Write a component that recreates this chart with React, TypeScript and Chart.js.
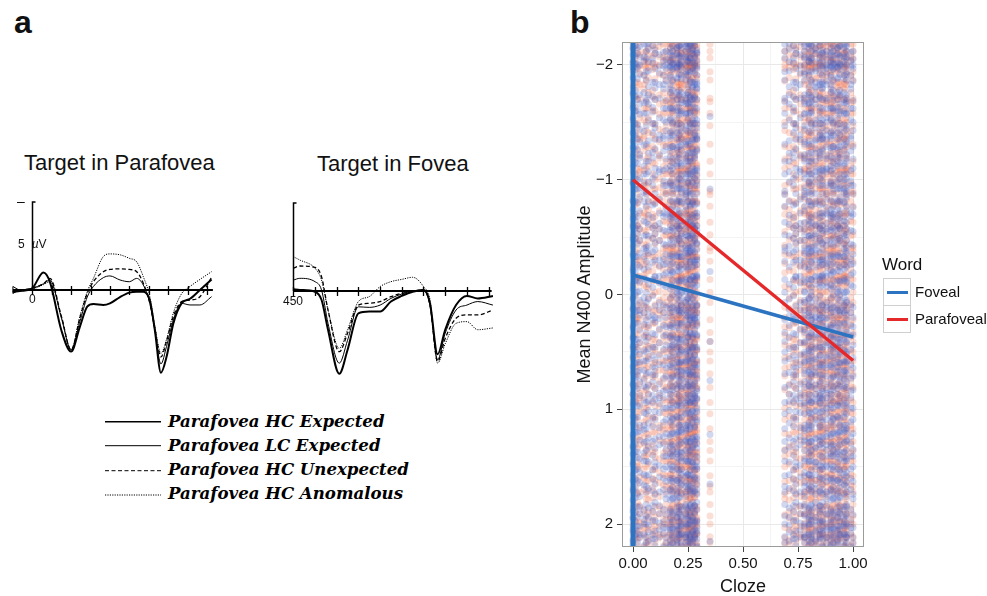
import React, { useEffect, useRef } from "react";
import { Chart, registerables } from "chart.js";

Chart.register(...registerables);

const SANS = '"Liberation Sans", Arial, Helvetica, sans-serif';

// ---------------- Panel a : ERP waveforms (µV, plotted up) ----------------
const parafoveaTimes = [-100, -50, 0, 57, 91, 150, 200, 245, 283, 315, 366, 400, 452, 500, 538, 572, 606, 632, 663, 692, 727, 770, 813, 864, 924];
const parafoveaHCExpected = [-0.1, -0.05, 0.1, 1.0, 0.45, -2.3, -3.5, -2.1, -0.95, -0.8, -0.85, -0.76, -0.4, -0.15, -0.1, -0.1, -0.6, -2.3, -4.7, -3.8, -1.9, -0.75, -0.5, 0.0, 0.6];
const parafoveaLCExpected = [-0.1, 0.0, 0.1, 0.35, 0.57, -1.6, -3.4, -1.8, -0.4, 0.2, 0.7, 0.8, 0.57, 0.47, 0.66, 0.28, -0.76, -2.3, -4.2, -3.2, -1.7, -0.76, -0.85, -0.85, -0.38];
const parafoveaHCUnexpected = [-0.1, 0.0, 0.1, 0.35, 0.66, -1.5, -3.4, -1.6, -0.2, 0.47, 1.04, 1.17, 1.2, 1.17, 1.04, 0.38, -0.76, -2.2, -3.8, -2.9, -1.5, -0.66, -0.57, -0.38, 0.72];
const parafoveaHCAnomalous = [-0.1, 0.0, 0.05, 0.3, 0.47, -1.5, -3.4, -1.5, -0.1, 0.66, 1.9, 2.05, 2.0, 1.8, 1.6, 0.76, -0.38, -2.1, -3.6, -2.8, -1.3, -0.2, 0.2, 0.6, 1.04];

const foveaTimes = [450, 480, 550, 580, 610, 662, 700, 750, 800, 850, 900, 950, 1000, 1050, 1080, 1115, 1150, 1200, 1250, 1300, 1370];
const foveaHCExpected = [0.1, 0.06, -0.04, -0.5, -2.2, -4.7, -3.35, -1.27, -1.17, -1.17, -0.6, -0.28, -0.04, 0.06, -0.7, -3.6, -2.2, -0.8, -0.28, -0.42, -0.28];
const foveaLCExpected = [0.62, 0.72, 0.53, 0.06, -1.84, -4.1, -2.8, -0.9, -0.93, -0.8, -0.42, -0.17, 0.0, 0.06, -0.8, -3.9, -2.4, -1.08, -0.8, -0.6, -0.8];
const foveaHCUnexpected = [1.29, 1.42, 1.34, 0.81, -1.08, -3.45, -2.4, -0.8, -0.7, -0.6, -0.32, -0.13, -0.04, 0.06, -0.8, -4.0, -2.7, -1.55, -1.36, -1.36, -1.08];
const foveaHCAnomalous = [1.95, 1.76, 1.29, 0.62, -1.08, -3.26, -2.2, -0.6, -0.32, 0.25, 0.53, 0.66, 0.78, 0.25, -0.5, -4.1, -3.0, -1.84, -1.74, -2.2, -2.1];

const parafoveaTickTimes = [0, 100, 200, 300, 400, 500, 600, 700, 800, 900];
const foveaTickTimes = [450, 550, 650, 750, 850, 950, 1050, 1150, 1250, 1350];
const erpScaleBar = 5; // µV

const erpLegendLabels = [
  "Parafovea HC Expected",
  "Parafovea LC Expected",
  "Parafovea HC Unexpected",
  "Parafovea HC Anomalous",
];

const ERP_STYLES = [
  { width: 2, dash: [] as number[] },
  { width: 1, dash: [] as number[] },
  { width: 1.3, dash: [4, 2.5] },
  { width: 1, dash: [1.2, 1.2] },
];

// ---------------- Panel b : Cloze vs Mean N400 amplitude ----------------
const clozeTickValues = [0, 0.25, 0.5, 0.75, 1];
const clozeMinorValues = [0.125, 0.375, 0.625, 0.875];
const amplitudeTickValues = [-2, -1, 0, 1, 2];
const amplitudeMinorValues = [-1.5, -0.5, 0.5, 1.5];

const fovealFitCloze = [0, 1];
const fovealFitAmplitude = [-0.17, 0.37];
const parafovealFitCloze = [0, 1];
const parafovealFitAmplitude = [-1.0, 0.575];
const fovealZeroCloze = [0, 0];
const fovealZeroAmplitude = [-2.2, 2.2];

// cloze values of the item columns
const clozeLeftLight = [0.0, 0.01, 0.02, 0.03, 0.05, 0.06, 0.07, 0.09, 0.1, 0.12, 0.14, 0.15];
const clozeLeftDense = [0.17, 0.18, 0.2, 0.21, 0.22, 0.24, 0.25, 0.26, 0.27, 0.28, 0.29];
const clozeMidSparse = [0.35];
const clozeRightLight = [0.69, 0.71, 0.73, 0.74, 0.76, 0.99, 1.0];
const clozeRightDense = [0.78, 0.8, 0.81, 0.83, 0.85, 0.86, 0.88, 0.9, 0.91, 0.93, 0.94, 0.96, 0.97];

// trial amplitudes read along the columns
const ampsA = [-2.15, 1.32, -0.48, 0.87, -1.63, 2.05, 0.12, -0.97, 1.71, -1.28, 0.45, -2.02, 1.06, -0.21, 1.89, -1.76, 0.63, -0.66, 2.14, -1.41, 0.29, -0.05, 1.48, -1.89, 0.78, -1.12, 1.95, -0.34, 0.96, -1.54, 2.18, -0.82, 0.38, -1.98, 1.22, -0.59, 1.62, -1.2, 0.03, -2.09, 1.39, -0.74, 0.54, 1.79];
const ampsB = [0.94, -1.87, 1.58, -0.29, 2.11, -1.05, 0.41, -2.18, 1.17, -0.63, 1.83, -1.47, 0.07, -0.9, 1.36, -1.71, 0.69, 2.0, -0.41, -1.31, 0.22, 1.67, -2.06, 0.58, -0.13, 1.04, -1.58, 1.93, -0.77, 0.33, -1.94, 1.45, -0.52, 0.81, -1.16, 2.16, -0.02, -1.68, 1.28, -0.87, 0.5, -2.12, 1.72, -0.38];
const ampsC = [-1.36, 0.16, 2.08, -0.71, 1.24, -1.99, 0.73, -0.17, 1.52, -1.52, 0.36, -2.11, 1.87, -0.44, 0.99, -1.08, 2.2, -0.95, 0.48, -1.79, 1.11, -0.26, 1.7, -2.04, 0.61, -0.56, 1.41, -1.25, 0.09, 1.98, -1.62, 0.84, -0.08, -1.91, 1.3, -0.68, 2.03, -1.38, 0.27, -0.99, 1.6, -1.83, 0.9, -0.31];
const ampsD = [1.76, -0.57, -1.92, 0.31, 1.14, -1.44, 2.12, -0.11, 0.66, -2.16, 1.43, -0.85, 0.05, 1.91, -1.19, 0.52, -1.66, 1.27, -0.36, 2.02, -1.01, 0.76, -2.0, 0.18, 1.55, -0.73, -1.33, 0.97, 1.85, -0.47, -1.74, 0.42, 2.09, -1.22, 0.14, -0.93, 1.64, -2.07, 0.88, -0.24, 1.19, -1.57, 0.59, -0.03];
const ampsE = [-0.16, 2.13, -1.49, 0.57, -0.79, 1.34, -2.13, 0.91, -0.39, 1.81, -1.1, 0.24, -1.85, 1.5, -0.6, 1.02, -1.35, 2.06, 0.1, -1.97, 0.7, -0.3, 1.65, -1.7, 0.46, -1.04, 1.97, -0.53, 0.82, -2.1, 1.26, -0.15, 0.35, -1.45, 1.74, -0.88, 2.19, -1.27, 0.64, -0.45, 1.09, -1.8, 0.2, 1.46];
const ampsF = [0.6, -1.05, 1.9, -2.08, 0.25, 1.37, -0.64, -1.78, 1.08, -0.2, 2.1, -1.39, 0.8, -0.92, 1.6, -2.17, 0.44, -0.49, 1.2, -1.6, 1.98, 0.0, -1.15, 0.72, -2.01, 1.53, -0.33, 0.93, -1.49, 1.77, -0.7, 0.15, -1.96, 1.31, -0.12, 2.04, -1.29, 0.5, -0.81, 1.68, -1.73, 0.39, -0.58, 1.14];
const ampsG = [1.12, -0.42, -1.81, 0.68, 2.07, -1.23, 0.19, -2.14, 1.57, -0.69, 0.93, -1.52, 1.86, -0.09, -1.07, 0.47, 2.15, -1.95, 0.79, -0.36, 1.33, -1.66, 0.04, 1.69, -0.98, -2.03, 0.56, 1.01, -0.61, 1.94, -1.34, 0.27, -1.74, 1.46, -0.24, 0.87, -1.16, 2.01, -0.81, 0.37, -2.19, 1.25, -0.51, 0.13];
const ampsH = [-0.88, 1.63, 0.28, -1.97, 0.99, -0.35, 2.17, -1.43, 0.55, -0.7, 1.41, -2.05, 0.11, 1.78, -1.18, -0.19, 0.83, -1.62, 2.03, -0.55, 0.35, -1.29, 1.21, -2.12, 0.64, 1.92, -0.95, -0.07, 1.5, -1.86, 0.2, -0.43, 1.09, -1.5, 2.12, -0.76, 0.71, -2.0, 1.35, -1.1, 0.44, 1.74, -0.27, -1.69];
const ampsI = [0.37, -2.07, 1.45, -0.81, 0.03, 1.96, -1.3, 0.74, -0.51, -1.76, 1.18, 2.19, -0.14, 0.58, -1.05, 1.66, -2.18, 0.92, -0.4, 1.29, -1.58, 0.16, -0.89, 2.0, -1.42, 0.49, 1.03, -1.91, 0.8, -0.22, 1.57, -1.12, 1.88, -0.64, 0.26, -2.03, 1.14, -0.33, 0.66, -1.67, 2.09, -0.97, 0.1, 1.38];
const ampsJ = [-1.71, 0.86, -0.25, 1.99, -1.07, 0.42, -2.2, 1.31, -0.57, 0.13, 1.72, -1.39, 0.95, -1.93, 0.3, 2.11, -0.83, 1.16, -0.1, -1.54, 0.61, 1.84, -2.09, 0.07, -0.71, 1.49, -1.21, 0.78, 2.05, -0.47, -1.83, 1.03, 0.21, -1.09, 1.59, -0.3, 0.53, -1.99, 1.24, -0.62, 1.91, -1.35, 0.9, -0.16];
const ampsK = [2.02, -1.14, 0.09, -0.6, 1.52, -1.88, 0.71, 1.2, -0.33, -2.1, 0.48, 1.73, -0.92, 0.25, -1.48, 2.16, -0.12, 0.97, -1.7, 0.59, -0.8, 1.37, -2.01, 1.85, -0.44, 0.14, -1.26, 1.07, -0.68, 2.08, -1.6, 0.39, -0.02, -1.98, 1.62, 0.82, -1.0, 1.42, -0.26, -2.15, 0.67, 1.94, -0.53, -1.36];
const ampsL = [-0.49, 1.07, -1.59, 0.22, 1.84, -2.02, 0.53, -1.24, 1.4, -0.13, 2.09, -0.78, 0.88, -1.85, 0.34, 1.61, -1.01, -0.28, 1.97, -1.49, 0.63, -2.17, 1.15, 0.01, -0.67, 1.71, -1.19, 0.46, -1.72, 2.13, -0.37, 0.76, -0.95, 1.28, -2.06, 0.18, 1.53, -0.58, 0.94, -1.41, 1.89, -0.06, -1.63, 0.7];
const ampsSparseFoveal = [-1.55, -0.92, -0.2, 0.41, 0.75, 1.22, 1.65, 2.15];

const ampLists = [ampsA, ampsB, ampsC, ampsD, ampsE, ampsF, ampsG, ampsH, ampsI, ampsJ, ampsK, ampsL];

type Pt = { x: number; y: number };

function columnPoints(columns: number[], perColumn: number, shift: number): Pt[] {
  const pts: Pt[] = [];
  columns.forEach((c, i) => {
    for (let k = 0; k < perColumn; k++) {
      const list = ampLists[(i * 5 + shift + k * 2) % ampLists.length];
      list.forEach((a) => pts.push({ x: c, y: a }));
    }
  });
  return pts;
}

function pairs(xs: number[], ys: number[]): Pt[] {
  return xs.map((x, i) => ({ x, y: ys[i] }));
}

// ---------------- plugins ----------------
const erpAxesPlugin = {
  id: "erpAxes",
  afterDatasetsDraw(chart: any, _args: any, opts: any) {
    const { ctx } = chart;
    const x = chart.scales.x;
    const y = chart.scales.y;
    const y0 = y.getPixelForValue(0);
    ctx.save();
    ctx.strokeStyle = "#000";
    ctx.lineWidth = 2;
    ctx.beginPath();
    ctx.moveTo(x.getPixelForValue(opts.from), y0);
    ctx.lineTo(x.getPixelForValue(opts.to), y0);
    ctx.stroke();
    ctx.lineWidth = 1.3;
    ctx.beginPath();
    for (const t of opts.ticks) {
      const px = Math.round(x.getPixelForValue(t)) + 0.5;
      ctx.moveTo(px, y0 - 4);
      ctx.lineTo(px, y0 + 5);
    }
    ctx.stroke();
    const ax = Math.round(x.getPixelForValue(opts.barAt)) + 0.5;
    const top = y.getPixelForValue(opts.bar);
    ctx.lineWidth = 1.5;
    ctx.beginPath();
    ctx.moveTo(ax, y0);
    ctx.lineTo(ax, top);
    ctx.lineTo(ax + 3, top);
    ctx.stroke();
    if (opts.triangle) {
      const tx = x.getPixelForValue(opts.from);
      ctx.lineWidth = 1;
      ctx.beginPath();
      ctx.moveTo(tx, y0 - 3.5);
      ctx.lineTo(tx + 6, y0);
      ctx.lineTo(tx, y0 + 3.5);
      ctx.closePath();
      ctx.stroke();
    }
    ctx.restore();
  },
};

const panelBorderPlugin = {
  id: "panelBorder",
  afterDraw(chart: any) {
    const { ctx, chartArea: a } = chart;
    ctx.save();
    ctx.strokeStyle = "#9b9b9b";
    ctx.lineWidth = 1;
    ctx.strokeRect(Math.round(a.left) + 0.5, Math.round(a.top) + 0.5, Math.round(a.width) - 1, Math.round(a.height) - 1);
    ctx.restore();
  },
};

// ---------------- components ----------------
type ErpProps = {
  left: number; top: number; width: number; height: number;
  xMin: number; xMax: number; yMin: number; yMax: number;
  times: number[]; series: number[][];
  from: number; to: number; ticks: number[]; barAt: number; triangle: boolean;
};

function ErpChart(p: ErpProps) {
  const ref = useRef<HTMLCanvasElement>(null);
  useEffect(() => {
    const chart = new Chart(ref.current as HTMLCanvasElement, {
      type: "line",
      data: {
        datasets: p.series.map((vals, i) => ({
          data: pairs(p.times, vals),
          borderColor: "#000",
          borderWidth: ERP_STYLES[i].width,
          borderDash: ERP_STYLES[i].dash,
          pointRadius: 0,
          cubicInterpolationMode: "monotone",
          fill: false,
        })),
      },
      options: {
        animation: false,
        responsive: false,
        events: [],
        layout: { padding: 0 },
        plugins: {
          legend: { display: false },
          tooltip: { enabled: false },
          erpAxes: { from: p.from, to: p.to, ticks: p.ticks, barAt: p.barAt, bar: erpScaleBar, triangle: p.triangle },
        } as any,
        scales: {
          x: { type: "linear", min: p.xMin, max: p.xMax, display: false },
          y: { type: "linear", min: p.yMin, max: p.yMax, display: false },
        },
      },
      plugins: [erpAxesPlugin],
    } as any);
    return () => chart.destroy();
  }, []);
  return (
    <canvas
      ref={ref}
      width={p.width}
      height={p.height}
      style={{ position: "absolute", left: p.left, top: p.top, width: p.width, height: p.height }}
    />
  );
}

const BLUE = "#2c74c1";
const RED = "#e5292b";

function ScatterPanel() {
  const ref = useRef<HTMLCanvasElement>(null);
  useEffect(() => {
    const fovealPts: Pt[] = [
      ...columnPoints(clozeLeftLight, 1, 0),
      ...columnPoints(clozeLeftDense, 2, 0),
      ...columnPoints(clozeRightLight, 1, 1),
      ...columnPoints(clozeRightDense, 2, 1),
      ...clozeMidSparse.flatMap((c) => ampsSparseFoveal.map((a) => ({ x: c, y: a }))),
    ];
    const parafovealPts: Pt[] = [
      ...columnPoints(clozeLeftLight, 1, 6),
      ...columnPoints(clozeLeftDense, 2, 6),
      ...columnPoints(clozeRightLight, 1, 7),
      ...columnPoints(clozeRightDense, 2, 7),
      ...clozeMidSparse.flatMap((c) => ampsB.map((a) => ({ x: c, y: a }))),
    ];
    const isMajorX = (v: number) => clozeTickValues.includes(v);
    const isMajorY = (v: number) => amplitudeTickValues.includes(v);
    const chart = new Chart(ref.current as HTMLCanvasElement, {
      type: "scatter",
      data: {
        datasets: [
          { label: "Parafoveal fit", data: pairs(parafovealFitCloze, parafovealFitAmplitude), showLine: true, borderColor: RED, borderWidth: 3.5, pointRadius: 0, order: 0 },
          { label: "Foveal fit", data: pairs(fovealFitCloze, fovealFitAmplitude), showLine: true, borderColor: BLUE, borderWidth: 3.5, pointRadius: 0, order: 0 },
          { label: "Foveal cloze 0", data: pairs(fovealZeroCloze, fovealZeroAmplitude), showLine: true, borderColor: BLUE, borderWidth: 5, pointRadius: 0, order: 0 },
          { label: "Foveal", data: fovealPts, backgroundColor: "rgba(62,88,190,0.24)", borderWidth: 0, pointRadius: 3.5, order: 1 },
          { label: "Parafoveal", data: parafovealPts, backgroundColor: "rgba(235,100,62,0.21)", borderWidth: 0, pointRadius: 3.5, order: 1 },
        ],
      },
      options: {
        animation: false,
        responsive: false,
        events: [],
        layout: { padding: { top: 42, right: 26, left: 0, bottom: 0 } },
        plugins: { legend: { display: false }, tooltip: { enabled: false } },
        scales: {
          x: {
            type: "linear",
            min: -0.05,
            max: 1.05,
            afterBuildTicks: (s: any) => {
              s.ticks = [...clozeTickValues, ...clozeMinorValues].sort((a, b) => a - b).map((v) => ({ value: v }));
            },
            afterFit: (s: any) => { s.height = 49; },
            ticks: {
              autoSkip: false,
              maxRotation: 0,
              padding: 3,
              color: "#141414",
              font: { family: SANS, size: 15 },
              callback: (v: any) => (isMajorX(v) ? Number(v).toFixed(2) : ""),
            },
            grid: {
              color: (c: any) => (c.tick && isMajorX(c.tick.value) ? "#e8e8e8" : "#f4f4f4"),
              tickColor: (c: any) => (c.tick && isMajorX(c.tick.value) ? "#444" : "rgba(0,0,0,0)"),
              tickLength: 5,
              lineWidth: 1,
            },
            border: { display: false },
            title: { display: true, text: "Cloze", color: "#141414", font: { family: SANS, size: 18, lineHeight: 1 }, padding: { top: 0, bottom: 0 } },
          },
          y: {
            type: "linear",
            reverse: true,
            min: -2.2,
            max: 2.2,
            afterBuildTicks: (s: any) => {
              s.ticks = [...amplitudeTickValues, ...amplitudeMinorValues].sort((a, b) => a - b).map((v) => ({ value: v }));
            },
            afterFit: (s: any) => { s.width = 62; },
            ticks: {
              autoSkip: false,
              padding: 4,
              color: "#141414",
              font: { family: SANS, size: 15 },
              callback: (v: any) => (isMajorY(v) ? (v < 0 ? "\u2212" + Math.abs(v) : String(v)) : ""),
            },
            grid: {
              color: (c: any) => (c.tick && isMajorY(c.tick.value) ? "#e8e8e8" : "#f4f4f4"),
              tickColor: (c: any) => (c.tick && isMajorY(c.tick.value) ? "#444" : "rgba(0,0,0,0)"),
              tickLength: 5,
              lineWidth: 1,
            },
            border: { display: false },
            title: { display: true, text: "Mean N400 Amplitude", color: "#141414", font: { family: SANS, size: 18, lineHeight: 1.2 }, padding: { top: 14, bottom: 0 } },
          },
        },
      },
      plugins: [panelBorderPlugin],
    } as any);
    return () => chart.destroy();
  }, []);
  return (
    <canvas
      ref={ref}
      width={330}
      height={596}
      style={{ position: "absolute", left: 560, top: 0, width: 330, height: 596 }}
    />
  );
}

function Txt(props: { left: number; top: number; size: number; children: any; style?: any }) {
  return (
    <div
      style={{
        position: "absolute",
        left: props.left,
        top: props.top,
        fontSize: props.size,
        lineHeight: 1,
        whiteSpace: "nowrap",
        ...(props.style || {}),
      }}
    >
      {props.children}
    </div>
  );
}

export default function App() {
  const legendY = [421.7, 445.7, 470.7, 495];
  return (
    <div
      style={{
        position: "fixed",
        left: 0,
        top: 0,
        width: 987,
        height: 596,
        background: "#fff",
        overflow: "hidden",
        fontFamily: SANS,
        color: "#111",
      }}
    >
      <Txt left={14} top={6} size={32} style={{ fontWeight: "bold" }}>a</Txt>
      <Txt left={570} top={6} size={32} style={{ fontWeight: "bold" }}>b</Txt>

      <Txt left={24} top={152} size={22}>Target in Parafovea</Txt>
      <Txt left={317} top={153} size={22}>Target in Fovea</Txt>

      <ErpChart
        left={2} top={180} width={225} height={200}
        xMin={-156.2} xMax={1003.6} yMin={-5.114} yMax={6.25}
        times={parafoveaTimes}
        series={[parafoveaHCExpected, parafoveaLCExpected, parafoveaHCUnexpected, parafoveaHCAnomalous]}
        from={-100} to={931} ticks={parafoveaTickTimes} barAt={0} triangle={true}
      />
      <ErpChart
        left={280} top={180} width={225} height={200}
        xMin={388.7} xMax={1425.6} yMin={-5.057} yMax={6.307}
        times={foveaTimes}
        series={[foveaHCExpected, foveaLCExpected, foveaHCUnexpected, foveaHCAnomalous]}
        from={450} to={1364} ticks={foveaTickTimes} barAt={450} triangle={false}
      />

      <Txt left={17} top={194} size={14}>–</Txt>
      <Txt left={18} top={238} size={12}>
        5<span style={{ marginLeft: 7 }}><i>µ</i>V</span>
      </Txt>
      <Txt left={29} top={293} size={12}>0</Txt>
      <Txt left={283} top={295} size={12}>450</Txt>

      <svg style={{ position: "absolute", left: 100, top: 410, width: 66, height: 100 }} width={66} height={100}>
        {legendY.map((y, i) => (
          <line
            key={i}
            x1={5}
            x2={61}
            y1={y - 410}
            y2={y - 410}
            stroke="#000"
            strokeWidth={ERP_STYLES[i].width === 2 ? 1.6 : 1}
            strokeDasharray={ERP_STYLES[i].dash.length ? ERP_STYLES[i].dash.join(" ") : undefined}
          />
        ))}
      </svg>
      {erpLegendLabels.map((lab, i) => (
        <Txt
          key={lab}
          left={168}
          top={413 + i * 24}
          size={16.6}
          style={{ fontFamily: '"DejaVu Serif", serif', fontWeight: "bold", fontStyle: "italic", color: "#000" }}
        >
          {lab}
        </Txt>
      ))}

      <ScatterPanel />

      <Txt left={882} top={256} size={17}>Word</Txt>
      <div style={{ position: "absolute", left: 883, top: 278, width: 26, height: 26, border: "1px solid #cfcfcf", background: "#fff" }}>
        <div style={{ position: "absolute", left: 3, top: 11.5, width: 21, height: 3, background: BLUE }} />
      </div>
      <div style={{ position: "absolute", left: 883, top: 305, width: 26, height: 26, border: "1px solid #cfcfcf", background: "#fff" }}>
        <div style={{ position: "absolute", left: 3, top: 11.5, width: 21, height: 3, background: RED }} />
      </div>
      <Txt left={915} top={284} size={15}>Foveal</Txt>
      <Txt left={915} top={311} size={15}>Parafoveal</Txt>
    </div>
  );
}
